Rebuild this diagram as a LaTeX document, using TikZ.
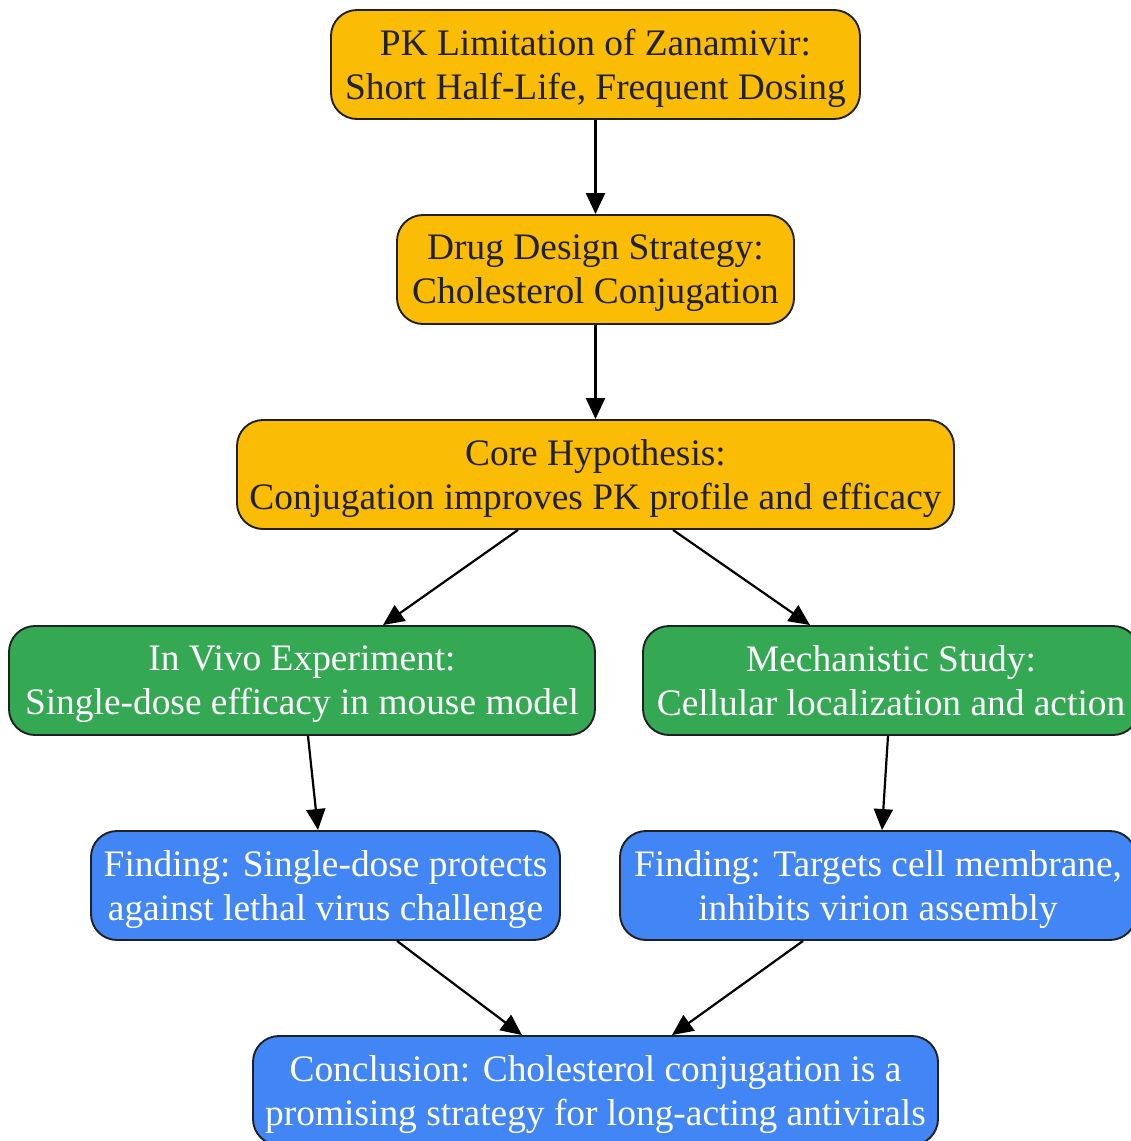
\documentclass[tikz,border=0pt]{standalone}
\usepackage{fontspec}
\setmainfont{Liberation Serif}
\usetikzlibrary{arrows.meta}
\definecolor{gy}{HTML}{FBBC05}
\definecolor{gg}{HTML}{34A853}
\definecolor{gb}{HTML}{4285F4}
\definecolor{ink}{HTML}{202124}
\begin{document}
\begin{tikzpicture}[x=1pt,y=-1pt,
  box/.style={draw=ink,line width=1.9pt,rounded corners=26pt,minimum height=109pt,
    align=center,font=\fontsize{37.4}{44}\selectfont,inner sep=0pt,text depth=-8pt},
  ybox/.style={box,fill=gy,text=ink},
  gbox/.style={box,fill=gg,text=white},
  bbox/.style={box,fill=gb,text=white},
  arr/.style={line width=2.2pt,-{Triangle[length=21pt,width=19pt]}}]
\useasboundingbox (0,0) rectangle (1131,1141);
\node[ybox,minimum width=529pt] (pk) at (595.5,64.5) {PK Limitation of Zanamivir:\\Short Half-Life, Frequent Dosing};
\node[ybox,minimum width=397pt] (dd) at (595.5,269.5) {Drug Design Strategy:\\Cholesterol Conjugation};
\node[ybox,minimum width=717pt] (core) at (595.5,474.5) {Core Hypothesis:\\Conjugation improves PK profile and efficacy};
\node[gbox,minimum width=586pt] (iv) at (302,680.5) {In Vivo Experiment:\\Single-dose efficacy in mouse model};
\node[gbox,minimum width=496pt] (ms) at (891,680.5) {Mechanistic Study:\\Cellular localization and action};
\node[bbox,minimum width=469pt] (f1) at (325.5,885.5) {Finding: Single-dose protects\\against lethal virus challenge};
\node[bbox,minimum width=516pt] (f2) at (878,885.5) {Finding: Targets cell membrane,\\inhibits virion assembly};
\node[bbox,minimum width=685pt] (cc) at (595.5,1090.5) {Conclusion: Cholesterol conjugation is a\\promising strategy for long-acting antivirals};
\draw[arr] (pk.south) -- (dd.north);
\draw[arr] (dd.south) -- (core.north);
\draw[arr] ([xshift=-77.5pt]core.south) -- ([xshift=81pt]iv.north);
\draw[arr] ([xshift=77.5pt]core.south) -- ([xshift=-81pt]ms.north);
\draw[arr] ([xshift=6pt]iv.south) -- ([xshift=-7.5pt]f1.north);
\draw[arr] ([xshift=-3pt]ms.south) -- ([xshift=4pt]f2.north);
\draw[arr] ([xshift=71.5pt]f1.south) -- ([xshift=-73.5pt]cc.north);
\draw[arr] ([xshift=-75pt]f2.south) -- ([xshift=76.5pt]cc.north);
\end{tikzpicture}
\end{document}
